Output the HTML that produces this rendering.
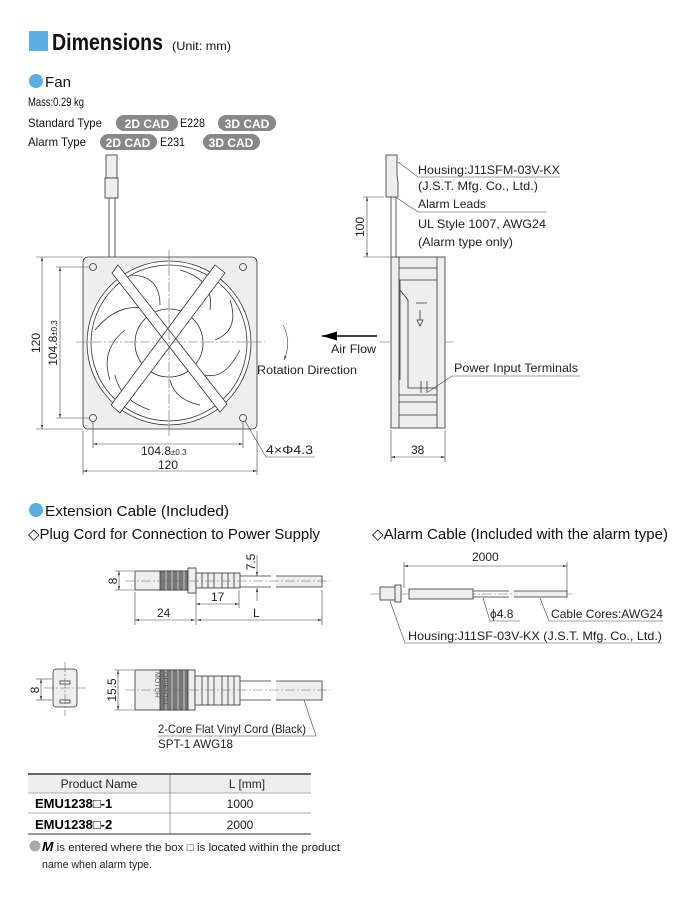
<!DOCTYPE html>
<html><head><meta charset="utf-8"><style>
html,body{margin:0;padding:0;background:#fff;}
svg{display:block;font-family:"Liberation Sans",sans-serif;}
</style></head><body>
<svg width="696" height="900" viewBox="0 0 696 900" xmlns="http://www.w3.org/2000/svg">
<defs>
<marker id="a" viewBox="0 0 10 6" refX="10" refY="3" markerWidth="7" markerHeight="4" orient="auto-start-reverse"><path d="M0,0L10,3L0,6z" fill="#444"/></marker>
<marker id="b" viewBox="0 0 10 6" refX="10" refY="3" markerWidth="10" markerHeight="6" orient="auto"><path d="M0,0L10,3L0,6z" fill="#000"/></marker>
</defs>
<g fill="#111">
<rect x="29" y="31" width="19" height="20" fill="#5aaee3"/>
<text x="52" y="50" font-size="23" font-weight="bold" textLength="111" lengthAdjust="spacingAndGlyphs">Dimensions</text>
<text x="172" y="50" font-size="12" textLength="59" lengthAdjust="spacingAndGlyphs">(Unit: mm)</text>
<circle cx="36" cy="81" r="7" fill="#5aaee3"/>
<text x="45" y="87" font-size="15" textLength="26" lengthAdjust="spacingAndGlyphs">Fan</text>
<text x="28" y="106" font-size="12" textLength="56" lengthAdjust="spacingAndGlyphs">Mass:0.29 kg</text>
<text x="28" y="127" font-size="12" textLength="74" lengthAdjust="spacingAndGlyphs">Standard Type</text>
<rect x="116" y="115" width="62" height="16" rx="8" fill="#888"/><text x="147" y="128" font-size="12" font-weight="bold" fill="#fff" text-anchor="middle">2D CAD</text>
<text x="180" y="127" font-size="12" textLength="25" lengthAdjust="spacingAndGlyphs">E228</text>
<rect x="218" y="115" width="58" height="16" rx="8" fill="#888"/><text x="247" y="128" font-size="12" font-weight="bold" fill="#fff" text-anchor="middle">3D CAD</text>
<text x="28" y="146" font-size="12" textLength="58" lengthAdjust="spacingAndGlyphs">Alarm Type</text>
<rect x="100" y="134" width="57" height="16" rx="8" fill="#888"/><text x="128" y="147" font-size="12" font-weight="bold" fill="#fff" text-anchor="middle">2D CAD</text>
<text x="160" y="146" font-size="12" textLength="25" lengthAdjust="spacingAndGlyphs">E231</text>
<rect x="203" y="134" width="57" height="16" rx="8" fill="#888"/><text x="231" y="147" font-size="12" font-weight="bold" fill="#fff" text-anchor="middle">3D CAD</text>
</g>

<!-- FAN FRONT -->
<g stroke="#333" stroke-width="0.8" fill="none">
<rect x="106" y="155" width="11" height="23" fill="#eee"/>
<rect x="105" y="178" width="13" height="20" fill="#eee"/>
<line x1="109" y1="198" x2="109" y2="257"/><line x1="115" y1="198" x2="115" y2="257"/>
<rect x="83" y="257" width="174" height="172" rx="5" fill="#eee"/>
<circle cx="169" cy="343" r="82" fill="#fff"/>
<circle cx="169" cy="343" r="78"/>
<path d="M95,330 Q120,300 150,310 M110,380 Q100,350 125,330 M150,410 Q120,400 115,375 M200,405 Q175,400 170,380 M240,350 Q225,380 205,375 M230,300 Q240,330 215,340 M180,270 Q215,280 210,310 M130,275 Q160,275 160,305" stroke="#333"/>
<circle cx="169" cy="343" r="34" fill="#fff"/>
<path d="M112,273 L118,265 L227,404 L220,412 Z M215,265 L225,273 L120,413 L111,405 Z" fill="#fff"/>
<circle cx="93" cy="267" r="3.5"/><circle cx="243" cy="267" r="3.5"/><circle cx="93" cy="418" r="3.5"/><circle cx="243" cy="418" r="3.5"/>
</g>
<g stroke="#666" stroke-width="0.6" stroke-dasharray="10,2,2,2" fill="none">
<line x1="76" y1="342" x2="265" y2="342"/><line x1="169" y1="250" x2="169" y2="436"/>
<line x1="380" y1="342" x2="455" y2="342"/>
</g>
<g stroke="#444" stroke-width="0.6" fill="none">
<line x1="83" y1="257" x2="36" y2="257"/><line x1="83" y1="429" x2="36" y2="429"/>
<line x1="42" y1="257" x2="42" y2="429" marker-start="url(#a)" marker-end="url(#a)"/>
<line x1="90" y1="267" x2="56" y2="267"/><line x1="90" y1="418" x2="56" y2="418"/>
<line x1="60" y1="267" x2="60" y2="418" marker-start="url(#a)" marker-end="url(#a)"/>
<line x1="93" y1="422" x2="93" y2="448"/><line x1="243" y1="422" x2="243" y2="448"/>
<line x1="93" y1="444" x2="243" y2="444" marker-start="url(#a)" marker-end="url(#a)"/>
<line x1="83" y1="431" x2="83" y2="475"/><line x1="257" y1="431" x2="257" y2="475"/>
<line x1="83" y1="471" x2="257" y2="471" marker-start="url(#a)" marker-end="url(#a)"/>
<path d="M245,421 L266,457 L315,457"/>
<path d="M283,325 Q292,342 284,360" marker-end="url(#a)"/>
</g>
<line x1="377" y1="336" x2="322" y2="336" stroke="#000" stroke-width="1.5" marker-end="url(#b)"/>
<g fill="#222" font-size="12">
<text transform="translate(40,343) rotate(-90)" text-anchor="middle">120</text>
<text transform="translate(57,343) rotate(-90)" text-anchor="middle">104.8<tspan font-size="8">±0.3</tspan></text>
<text x="141" y="455" font-size="12">104.8<tspan font-size="8">±0.3</tspan></text>
<text x="158" y="469" font-size="12">120</text>
<text x="266" y="454" textLength="47" lengthAdjust="spacingAndGlyphs">4×Φ4.3</text>
<text x="257" y="374" textLength="100" lengthAdjust="spacingAndGlyphs">Rotation Direction</text>
<text x="331" y="353" textLength="45" lengthAdjust="spacingAndGlyphs">Air Flow</text>
</g>

<!-- SIDE VIEW -->
<g stroke="#333" stroke-width="0.8" fill="none">
<path d="M386,155 H397 V175 L398,182 V197 H386 Z" fill="#eee"/>
<line x1="391" y1="197" x2="391" y2="257"/><line x1="396" y1="197" x2="396" y2="257"/>
<rect x="391" y="257" width="54" height="171" fill="#eee"/>
<path d="M399,257 V428 M437,257 V428 M399,268 H437 M399,280 H437 M399,415 H437 M399,402 H437 M399,395 H437" />
<path d="M400,280 V290 L408,300 V388 H437 M400,290 V380" />
<path d="M416,303 H427 M420,310 V320 M417,320 H423 L420,326Z"/>
<path d="M421,393 V381 M427,393 V381"/>
</g>
<g stroke="#444" stroke-width="0.6" fill="none">
<line x1="384" y1="197" x2="363" y2="197"/><line x1="390" y1="257" x2="363" y2="257"/>
<line x1="367" y1="197" x2="367" y2="257" marker-start="url(#a)" marker-end="url(#a)"/>
<path d="M398,162 L418,177 L560,177"/>
<path d="M397,198 L418,212 L547,212"/>
<path d="M428,392 L452,376 L580,376"/>
<line x1="391" y1="430" x2="391" y2="462"/><line x1="445" y1="430" x2="445" y2="462"/>
<line x1="391" y1="457" x2="445" y2="457" marker-start="url(#a)" marker-end="url(#a)"/>
</g>
<g fill="#222" font-size="12">
<text transform="translate(364,227) rotate(-90)" text-anchor="middle">100</text>
<text x="418" y="174" textLength="142" lengthAdjust="spacingAndGlyphs">Housing:J11SFM-03V-KX</text>
<text x="418" y="190" textLength="120" lengthAdjust="spacingAndGlyphs">(J.S.T. Mfg. Co., Ltd.)</text>
<text x="418" y="208" textLength="68" lengthAdjust="spacingAndGlyphs">Alarm Leads</text>
<text x="418" y="228" textLength="128" lengthAdjust="spacingAndGlyphs">UL Style 1007, AWG24</text>
<text x="418" y="246" textLength="95" lengthAdjust="spacingAndGlyphs">(Alarm type only)</text>
<text x="454" y="372" textLength="124" lengthAdjust="spacingAndGlyphs">Power Input Terminals</text>
<text x="411" y="454">38</text>
</g>

<!-- EXTENSION CABLE -->
<circle cx="36" cy="510" r="7" fill="#5aaee3"/>
<g fill="#111" font-size="15">
<text x="45" y="516" textLength="184" lengthAdjust="spacingAndGlyphs">Extension Cable (Included)</text>
<text x="28" y="539" textLength="292" lengthAdjust="spacingAndGlyphs">◇Plug Cord for Connection to Power Supply</text>
<text x="372" y="539" textLength="296" lengthAdjust="spacingAndGlyphs">◇Alarm Cable (Included with the alarm type)</text>
</g>
<g stroke="#333" stroke-width="0.8">
<rect x="135" y="571" width="60" height="19" fill="#eee"/>
<rect x="160" y="571" width="28" height="19" fill="#777"/>
<path d="M166,571 V590 M172,571 V590 M178,571 V590 M184,571 V590" stroke="#ddd"/>
<rect x="188" y="568" width="8" height="25" fill="#eee"/>
<rect x="196" y="573" width="44" height="15" fill="#eee"/>
<path d="M202,573 V588 M208,573 V588 M214,573 V588 M222,573 V588 M228,573 V588 M234,573 V588" />
<path d="M240,576 H271 M240,587 H271 M276,576 H322 V587 H276" fill="#eee"/>
<rect x="135" y="670" width="60" height="40" fill="#eee"/>
<rect x="160" y="670" width="28" height="40" fill="#777"/>
<path d="M166,670 V710 M172,670 V710 M178,670 V710 M184,670 V710" stroke="#ddd"/>
<rect x="195" y="676" width="45" height="29" fill="#eee"/>
<path d="M202,676 V705 M208,676 V705 M214,676 V705 M222,676 V705 M228,676 V705 M234,676 V705"/>
<path d="M240,681 H271 M240,700 H271 M276,681 H322 V700 H276" fill="#eee"/>
<rect x="53" y="669" width="24" height="38" rx="3" fill="#eee"/>
<rect x="60" y="681" width="10" height="3" fill="#fff"/><rect x="60" y="700" width="10" height="3" fill="#fff"/>
</g>
<g stroke="#666" stroke-width="0.6" stroke-dasharray="10,2,2,2" fill="none">
<line x1="125" y1="581" x2="330" y2="581"/><line x1="125" y1="690" x2="330" y2="690"/>
<line x1="44" y1="688" x2="86" y2="688"/><line x1="65" y1="662" x2="65" y2="716"/>
<line x1="370" y1="594" x2="575" y2="594"/>
</g>
<g stroke="#444" stroke-width="0.6" fill="none">
<line x1="115" y1="571" x2="134" y2="571"/><line x1="115" y1="590" x2="134" y2="590"/>
<line x1="119" y1="571" x2="119" y2="590" marker-start="url(#a)" marker-end="url(#a)"/>
<line x1="257" y1="555" x2="257" y2="576" marker-end="url(#a)"/><line x1="257" y1="601" x2="257" y2="588" marker-end="url(#a)"/>
<line x1="196" y1="593" x2="196" y2="625"/><line x1="239" y1="590" x2="239" y2="608"/>
<line x1="196" y1="604" x2="239" y2="604" marker-start="url(#a)" marker-end="url(#a)"/>
<line x1="135" y1="592" x2="135" y2="625"/><line x1="322" y1="590" x2="322" y2="625"/>
<line x1="135" y1="620" x2="195" y2="620" marker-start="url(#a)" marker-end="url(#a)"/>
<line x1="197" y1="620" x2="322" y2="620" marker-start="url(#a)" marker-end="url(#a)"/>
<line x1="36" y1="679" x2="52" y2="679"/><line x1="36" y1="700" x2="52" y2="700"/>
<line x1="41" y1="679" x2="41" y2="700" marker-start="url(#a)" marker-end="url(#a)"/>
<line x1="114" y1="670" x2="134" y2="670"/><line x1="114" y1="710" x2="134" y2="710"/>
<line x1="118" y1="670" x2="118" y2="710" marker-start="url(#a)" marker-end="url(#a)"/>
<path d="M304,700 L316,736 L158,736"/>
<line x1="404" y1="562" x2="404" y2="588"/><line x1="567" y1="562" x2="567" y2="592"/>
<line x1="404" y1="566" x2="567" y2="566" marker-start="url(#a)" marker-end="url(#a)"/>
<path d="M483,598 L490,621 L520,621 M540,598 L549,621 L663,621 M390,601 L405,643 L662,643"/>
</g>
<g stroke="#333" stroke-width="0.8">
<rect x="380" y="587" width="21" height="13" fill="#eee"/>
<rect x="395" y="585" width="6" height="17" fill="#eee"/>
<rect x="409" y="589" width="64" height="10" fill="#eee"/>
<path d="M473,591 H509 M473,597 H509 M514,591 H567 V597 H514" fill="#eee"/>
</g>
<g fill="#222" font-size="12">
<text transform="translate(117,581) rotate(-90)" text-anchor="middle">8</text>
<text transform="translate(255,562) rotate(-90)" text-anchor="middle">7.5</text>
<text x="211" y="601">17</text>
<text x="157" y="617">24</text>
<text x="253" y="617">L</text>
<text transform="translate(39,690) rotate(-90)" text-anchor="middle">8</text>
<text transform="translate(116,690) rotate(-90)" text-anchor="middle">15.5</text>
<text transform="translate(163,672) rotate(90)" font-size="7" fill="#555">ORIENTAL</text>
<text transform="translate(155,672) rotate(90)" font-size="7" fill="#555">MOTOR</text>
<text x="158" y="733" textLength="148" lengthAdjust="spacingAndGlyphs">2-Core Flat Vinyl Cord (Black)</text>
<text x="158" y="748" textLength="75" lengthAdjust="spacingAndGlyphs">SPT-1  AWG18</text>
<text x="472" y="561">2000</text>
<text x="490" y="618">ϕ4.8</text>
<text x="551" y="618" textLength="112" lengthAdjust="spacingAndGlyphs">Cable Cores:AWG24</text>
<text x="408" y="640" textLength="254" lengthAdjust="spacingAndGlyphs">Housing:J11SF-03V-KX (J.S.T. Mfg. Co., Ltd.)</text>
</g>

<!-- TABLE -->
<rect x="28" y="774" width="283" height="19" fill="#eee"/>
<line x1="28" y1="774" x2="311" y2="774" stroke="#333" stroke-width="1.5"/>
<g stroke="#666" stroke-width="0.6">
<line x1="28" y1="793" x2="311" y2="793"/><line x1="28" y1="813" x2="311" y2="813"/>
<line x1="170" y1="774" x2="170" y2="834"/>
</g>
<line x1="28" y1="834" x2="311" y2="834" stroke="#333" stroke-width="1"/>
<g fill="#222" font-size="12">
<text x="99" y="788" text-anchor="middle">Product Name</text>
<text x="247" y="788" text-anchor="middle">L [mm]</text>
<text x="35" y="808" font-weight="bold" font-size="13" fill="#000">EMU1238<tspan font-weight="normal">□</tspan>-1</text>
<text x="35" y="829" font-weight="bold" font-size="13" fill="#000">EMU1238<tspan font-weight="normal">□</tspan>-2</text>
<text x="240" y="808" text-anchor="middle">1000</text>
<text x="240" y="829" text-anchor="middle">2000</text>
<circle cx="35" cy="846" r="5.5" fill="#aaa"/>
<text x="42" y="851" font-size="11" textLength="298" lengthAdjust="spacingAndGlyphs"><tspan font-weight="bold" font-style="italic" font-size="13" fill="#000">M</tspan> is entered where the box □ is located within the product</text>
<text x="42" y="868" font-size="11" textLength="110" lengthAdjust="spacingAndGlyphs">name when alarm type.</text>
</g>
</svg>
</body></html>
